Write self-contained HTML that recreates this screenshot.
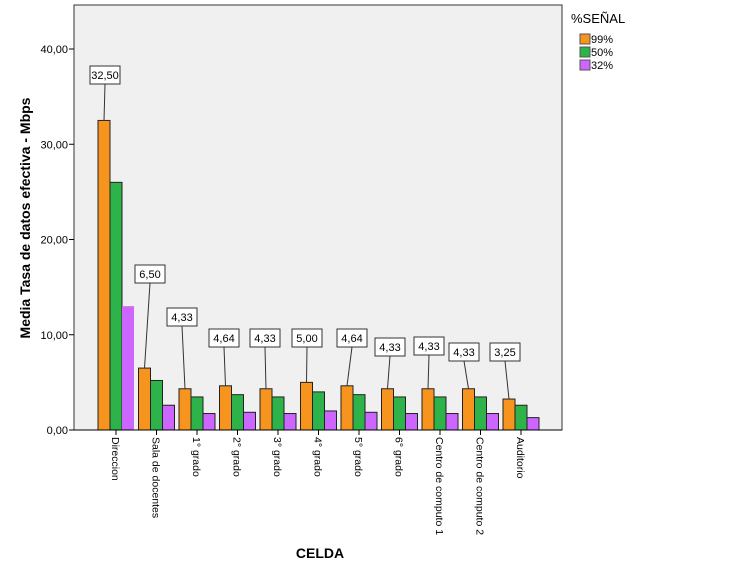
<!DOCTYPE html>
<html><head><meta charset="utf-8"><style>
body{margin:0;background:#fff;font-family:"Liberation Sans",Arial,sans-serif}
</style></head><body>
<svg id="c" width="751" height="577" xmlns="http://www.w3.org/2000/svg"></svg>
<script>
const categories=["Direccion","Sala de docentes","1° grado","2° grado","3° grado","4° grado","5° grado","6° grado","Centro de computo 1","Centro de computo 2","Auditorio"];
const s99=[32.5,6.5,4.33,4.64,4.33,5.0,4.64,4.33,4.33,4.33,3.25];
const s50=[26.0,5.2,3.47,3.71,3.47,4.0,3.71,3.47,3.47,3.47,2.6];
const s32=[13.0,2.6,1.73,1.86,1.73,2.0,1.86,1.73,1.73,1.73,1.3];
const labels99=["32,50","6,50","4,33","4,64","4,33","5,00","4,64","4,33","4,33","4,33","3,25"];
const yTicks=[0,10,20,30,40];
const yTickLabels=["0,00","10,00","20,00","30,00","40,00"];
const labelBoxPos=[[105,75],[150,274],[182,317],[224,338],[265,338],[307,338],[352,338],[390,347],[429,346],[464,352],[505,352]];
const NS="http://www.w3.org/2000/svg";
const svg=document.getElementById('c');
function el(t,a,p){const e=document.createElementNS(NS,t);for(const k in a)e.setAttribute(k,a[k]);(p||svg).appendChild(e);return e;}
const L=74,R=562,T=5,B=430;
const y=v=>B-v*9.525;
const gx=i=>98+i*40.5;
const bw=12;
let r=el('rect',{x:L,y:T,width:R-L,height:B-T,fill:'#f0f0f0',stroke:'#333','stroke-width':1});


yTicks.forEach((v,i)=>{
 let t=el('line',{x1:L-5,x2:L,y1:y(v),y2:y(v),stroke:'#000'});
 
 
 let tx=el('text',{x:L-6,y:y(v)+4,'text-anchor':'end','font-size':11});
 tx.textContent=yTickLabels[i];
 
 
});
const series=[[s99,'#f7941d'],[s50,'#2db34a'],[s32,'#cc66ff']];
categories.forEach((c,i)=>{
 series.forEach(([s,col],j)=>{
  let b=el('rect',{x:gx(i)+j*bw,y:y(s[i]),width:bw,height:B-y(s[i]),fill:col,stroke:(i==0&&j==2)?'none':'#222','stroke-width':1});
  
  
 });
 const cx=gx(i)+18;
 let tk=el('line',{x1:cx,x2:cx,y1:B,y2:B+5,stroke:'#000'});
 
 
 let ct=el('text',{x:0,y:0,'font-size':10.5,transform:`translate(${cx-4},${B+7}) rotate(90)`});
 ct.textContent=c;
 
 
 const [bx,by]=labelBoxPos[i];
 let ln=el('line',{x1:bx,y1:by+9,x2:gx(i)+6,y2:y(s99[i]),stroke:'#333'});
 
 
 let bb=el('rect',{x:bx-15,y:by-9,width:30,height:18,fill:'#fff',stroke:'#333'});
 
 
 let lt=el('text',{x:bx,y:by+4,'text-anchor':'middle','font-size':11});
 lt.textContent=labels99[i];
 
 
});
let xa=el('line',{x1:L,x2:R,y1:B,y2:B,stroke:'#000'});


let xt=el('text',{x:320,y:558,'text-anchor':'middle','font-size':14,'font-weight':'bold'});
xt.textContent='CELDA';


let yt=el('text',{x:0,y:0,'text-anchor':'middle','font-size':14,'font-weight':'bold',transform:'translate(30,218) rotate(-90)'});
yt.textContent='Media Tasa de datos efectiva - Mbps';


let lg=el('text',{x:571,y:23,'font-size':13});
lg.textContent='%SEÑAL';


const legendNames=['99%','50%','32%'];
series.forEach(([s,col],j)=>{
 let g=el('g',{});
 
 
 el('rect',{x:580,y:34+j*13,width:10,height:10,fill:col,stroke:'#555'},g);
 let t=el('text',{x:591,y:43+j*13,'font-size':11},g);
 t.textContent=legendNames[j];
});
</script>
</body></html>
